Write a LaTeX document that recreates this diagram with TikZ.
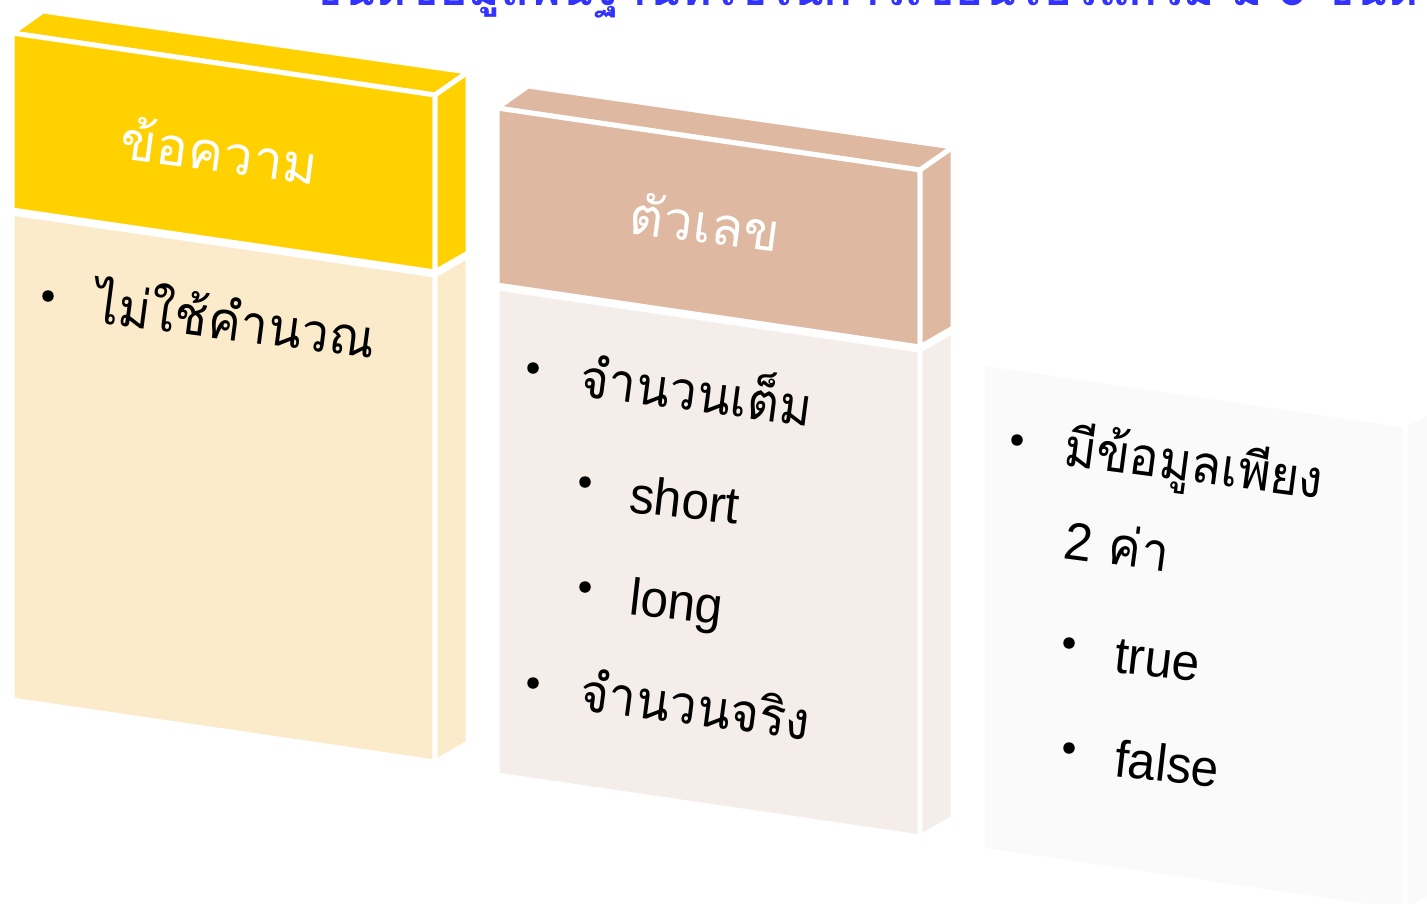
\documentclass[tikz,border=0pt]{standalone}
\usepackage{fontspec}
\setmainfont{Liberation Sans}
\newfontfamily\thaifont[Script=Thai]{Loma}
\newfontfamily\thaibody[Script=Thai,FakeStretch=0.93]{Loma}
\newfontfamily\latbody[FakeStretch=0.95]{Liberation Sans}
\newfontfamily\thaibold[Script=Thai,BoldFont={Loma Bold}]{Loma}
\definecolor{goldhead}{HTML}{FFD100}
\definecolor{goldbody}{HTML}{FCEBCB}
\definecolor{tanhead}{HTML}{DEB8A0}
\definecolor{tanbody}{HTML}{F5EDE9}
\definecolor{greybody}{HTML}{FAFAFA}
\definecolor{titleblue}{HTML}{3333FF}
\newcommand\headpanel[2]{%
  \begin{scope}[shift={#1}]
    \fill[#2,face] (12,33)--(43,11)--(468,72)--(435,95)--cycle;
    \fill[#2,face] (12,33)--(435,95)--(435,272)--(12,210)--cycle;
    \fill[#2,face] (435,95)--(468,72)--(468,253)--(435,272)--cycle;
  \end{scope}}
\newcommand\bodypanel[2]{%
  \begin{scope}[shift={#1}]
    \fill[#2,face] (12,213)--(435,275)--(435,762)--(12,700)--cycle;
    \fill[#2,face] (435,275)--(468,256)--(468,743)--(435,762)--cycle;
  \end{scope}}
\begin{document}
\begin{tikzpicture}[x=1pt,y=-1pt,
  face/.style={draw=white,line width=5pt,line join=round},
  headtxt/.style={text=white,font=\thaifont\fontsize{53}{60}\selectfont,rotate=-7.5,inner sep=0pt},
  thaitxt/.style={anchor=base west,font=\thaibody\fontsize{53}{60}\selectfont,rotate=-7.5,inner sep=0pt},
  lattxt/.style={anchor=base west,font=\latbody\fontsize{52}{60}\selectfont,rotate=-6.5,inner sep=0pt},
  dot/.style={circle,fill=black,inner sep=0pt,minimum size=11.5pt}]
\useasboundingbox (0,0) rectangle (1427,903);
\clip (0,0) rectangle (1427,903);
% title (cut off at the top)
\node[anchor=base west,inner sep=0pt,text=titleblue,font=\thaibold\bfseries\fontsize{48}{56}\selectfont] (title) at (310,5) {ชนิดข้อมูลพื้นฐานที่ใช้ในการเขียนโปรแกรม มี 3 ชนิด};
% panels
\headpanel{(0,0)}{goldhead}
\bodypanel{(0,0)}{goldbody}
\headpanel{(485,75)}{tanhead}
\bodypanel{(485,75)}{tanbody}
\bodypanel{(970,150)}{greybody}
% panel 1
\node[headtxt] (h1) at (220,150) {ข้อความ};
\node[dot] (b1) at (48,296) {};
\node[thaitxt] (t1) at (92,322) {ไม่ใช้คำนวณ};
% panel 2
\node[headtxt] (h2) at (705,222) {ตัวเลข};
\node[dot] (b2) at (533,368) {};
\node[thaitxt] (t2) at (578,396) {จำนวนเต็ม};
\node[dot] (b3) at (585,482) {};
\node[lattxt] (t3) at (628,512) {short};
\node[dot] (b4) at (585,587) {};
\node[lattxt] (t4) at (628,614) {long};
\node[dot] (b5) at (533,683) {};
\node[thaitxt] (t5) at (578,710) {จำนวนจริง};
% panel 3
\node[dot] (b6) at (1017,440) {};
\node[thaitxt] (t6) at (1062,465) {มีข้อมูลเพียง};
\node[thaitxt] (t7) at (1062,558) {{\latbody 2} ค่า};
\node[dot] (b7) at (1069,643) {};
\node[lattxt] (t8) at (1113,672) {true};
\node[dot] (b8) at (1069,748) {};
\node[lattxt] (t9) at (1113,776) {false};
\end{tikzpicture}
\end{document}
